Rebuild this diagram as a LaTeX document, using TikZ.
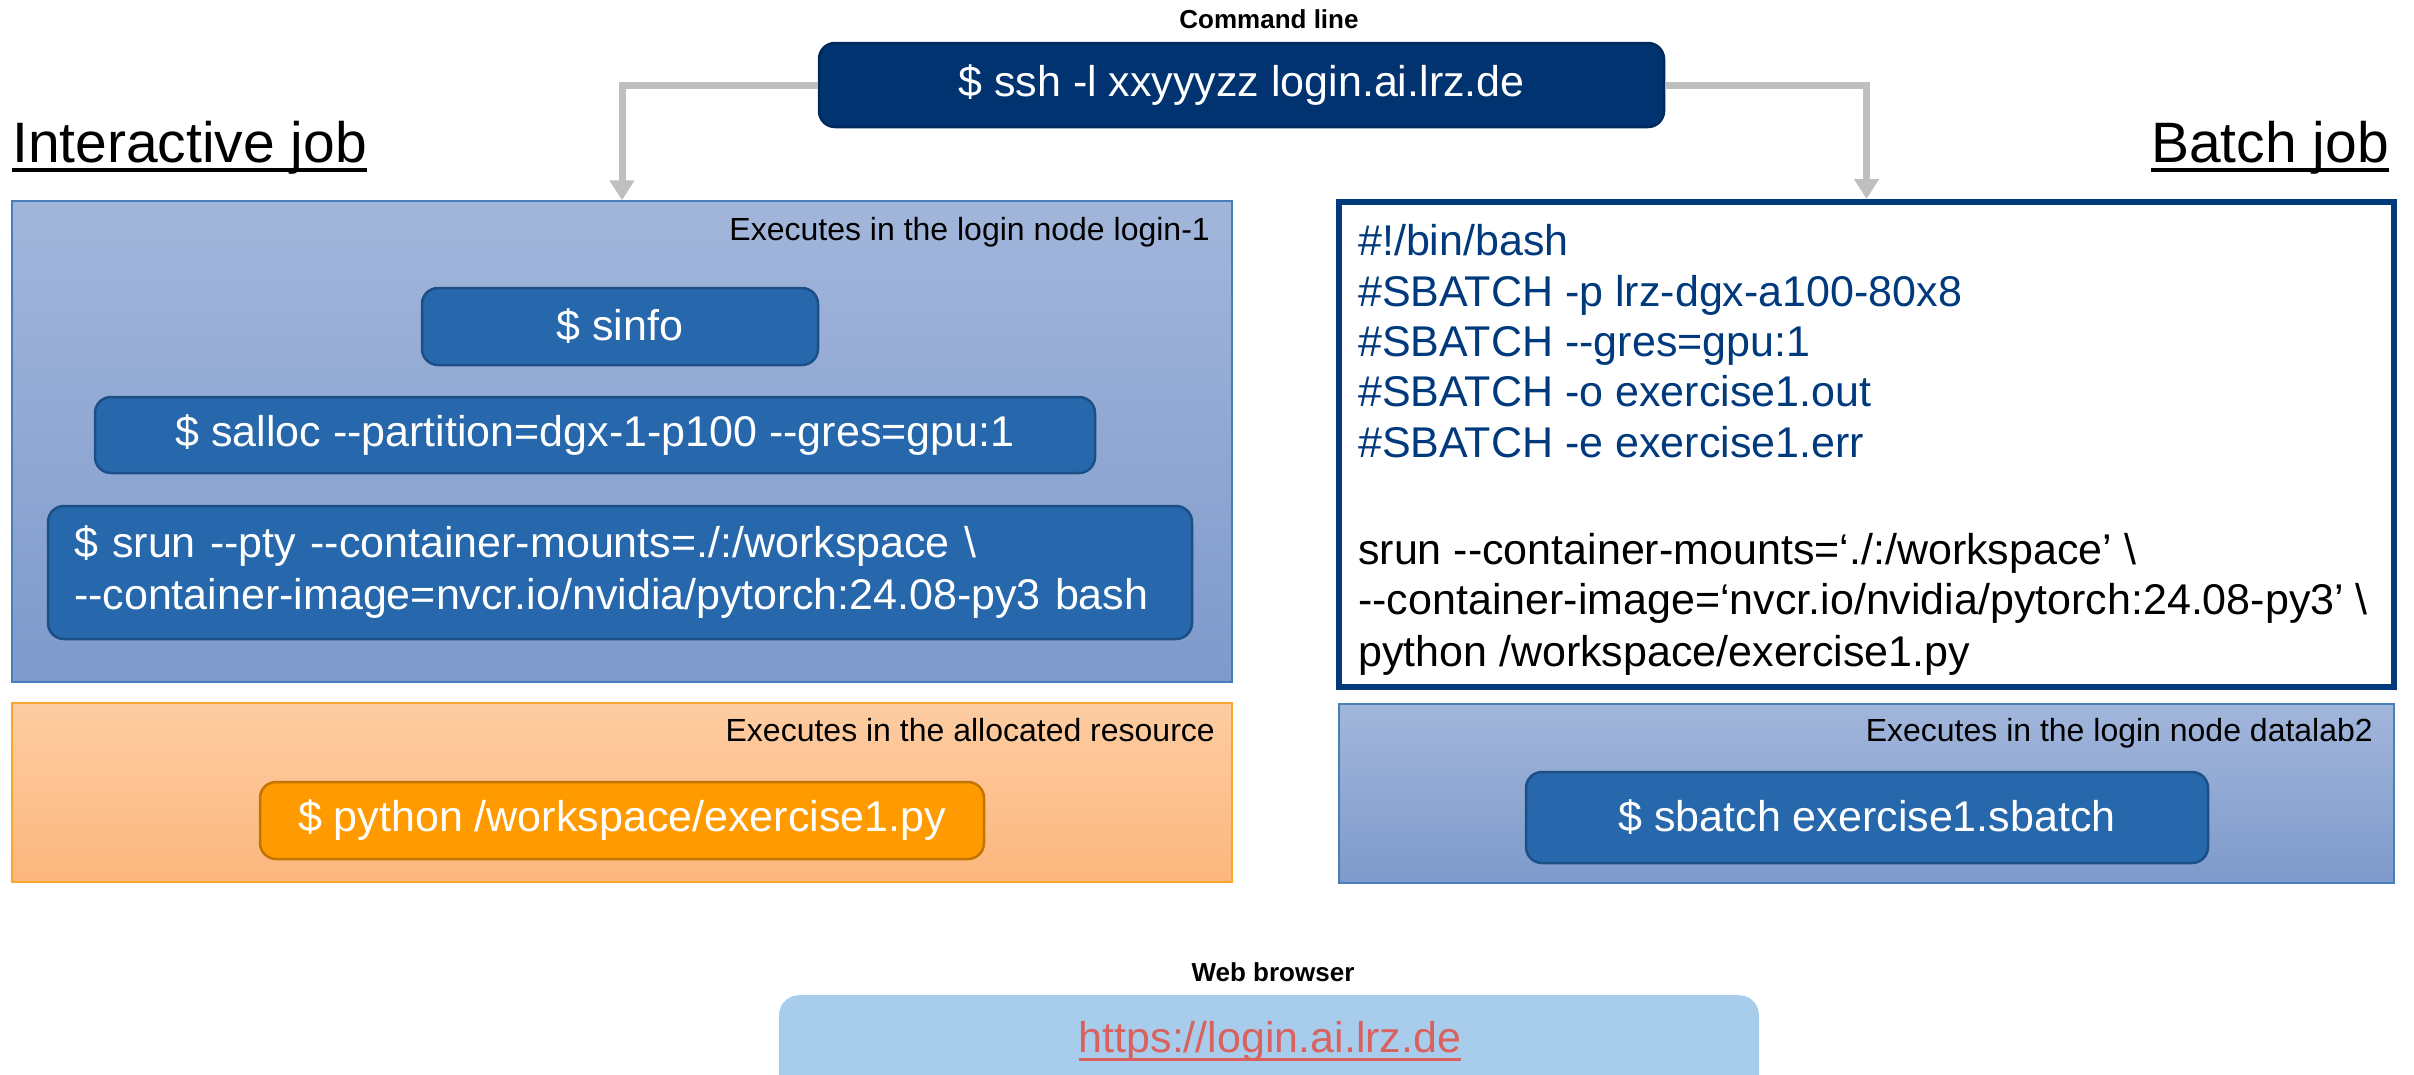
\documentclass[tikz,border=0pt]{standalone}
\usepackage{fontspec}
\setmainfont{Liberation Sans}[Ligatures=TeXOff]
\usetikzlibrary{arrows.meta}
\definecolor{navy}{HTML}{00336F}
\definecolor{navyborder}{HTML}{002A5C}
\definecolor{cmdblue}{HTML}{2767AB}
\definecolor{cmdborder}{HTML}{1D4F87}
\definecolor{sectop}{HTML}{A2B6DB}
\definecolor{secbot}{HTML}{7E9ACB}
\definecolor{secborder}{HTML}{4A7EBB}
\definecolor{orgtop}{HTML}{FDCCA2}
\definecolor{orgbot}{HTML}{FCB77D}
\definecolor{orgborder}{HTML}{FBA630}
\definecolor{pyfill}{HTML}{FF9A00}
\definecolor{pyborder}{HTML}{C27500}
\definecolor{batchnavy}{HTML}{003A7D}
\definecolor{arrowgray}{HTML}{BFBFBF}
\definecolor{webfill}{HTML}{A8CDEC}
\definecolor{urlred}{HTML}{D9625E}
\begin{document}
\begin{tikzpicture}[x=1pt,y=-1pt,
  cmdbox/.style={draw=cmdborder, line width=2.5pt, fill=cmdblue, rounded corners=16pt,
    text=white, font=\fontsize{43}{52}\selectfont, inner sep=0pt},
  pybox/.style={cmdbox, draw=pyborder, fill=pyfill},
  bluesec/.style={draw=secborder, line width=1.5pt, top color=sectop, bottom color=secbot, inner sep=0pt},
  orangesec/.style={draw=orgborder, line width=1.5pt, top color=orgtop, bottom color=orgbot, inner sep=0pt},
  seclabel/.style={font=\fontsize{32}{38}\selectfont, text=black, inner sep=0pt, anchor=east},
  heading/.style={font=\fontsize{57}{68}\selectfont, inner sep=0pt},
  smallbold/.style={font=\bfseries\fontsize{26}{31}\selectfont, inner sep=0pt},
  batchline/.style={font=\fontsize{43}{50}\selectfont, inner sep=0pt, anchor=base west},
  conn/.style={draw=arrowgray, line width=7pt, -{Triangle[width=24pt,length=20pt]}}
]
\useasboundingbox (0,0) rectangle (2414,1074);

% command line
\node[smallbold] (cmdlbl) at (1269,19) {Command line};
\node[draw=navyborder, line width=2.5pt, fill=navy, rounded corners=16pt, text=white,
      font=\fontsize{43}{52}\selectfont, inner sep=0pt,
      minimum width=845pt, minimum height=84pt] (ssh) at (1241.5,85) {\$ ssh -l xxyyyzz login.ai.lrz.de};

% headings
\node[heading, anchor=base west] (ijob) at (12,162) {Interactive job};
\draw[line width=4pt] ([yshift=-8pt]ijob.base west) -- ([yshift=-8pt]ijob.base east);
\node[heading, anchor=base east] (bjob) at (2389,162) {Batch job};
\draw[line width=4pt] ([yshift=-8pt]bjob.base west) -- ([yshift=-8pt]bjob.base east);

% interactive section
\node[bluesec, minimum width=1220pt, minimum height=481pt] (lbox) at (622,441.5) {};
\node[seclabel] (lboxlbl) at (1210,232) {Executes in the login node login-1};
\node[cmdbox, minimum width=396pt, minimum height=77pt] (sinfo) at (620,326.5) {\$ sinfo};
\node[cmdbox, minimum width=1000pt, minimum height=76pt] (salloc) at (595,435) {\$ salloc --partition=dgx-1-p100 --gres=gpu:1};
\node[cmdbox, minimum width=1144pt, minimum height=133pt, text width=1092pt, align=left] (srun) at (620,572.5)
  {\$ srun --pty --container-mounts=./:/workspace \textbackslash\\--container-image=nvcr.io/nvidia/pytorch:24.08-py3 bash};

% allocated resource section
\node[orangesec, minimum width=1220pt, minimum height=179pt] (obox) at (622,792.5) {};
\node[seclabel] (oboxlbl) at (1215,730) {Executes in the allocated resource};
\node[pybox, minimum width=724pt, minimum height=77pt] (python) at (622,820.5) {\$ python /workspace/exercise1.py};

% batch script
\node[draw=batchnavy, line width=6pt, fill=white, inner sep=0pt,
      minimum width=1055pt, minimum height=485pt] (batch) at (1866.5,444.5) {};
\node[batchline, text=batchnavy] (bl1) at (1358,255) {\#!/bin/bash};
\node[batchline, text=batchnavy] (bl2) at (1358,306) {\#SBATCH -p lrz-dgx-a100-80x8};
\node[batchline, text=batchnavy] (bl3) at (1358,356) {\#SBATCH --gres=gpu:1};
\node[batchline, text=batchnavy] (bl4) at (1358,406) {\#SBATCH -o exercise1.out};
\node[batchline, text=batchnavy] (bl5) at (1358,457) {\#SBATCH -e exercise1.err};
\node[batchline, text=black] (bl6) at (1358,564) {srun --container-mounts=‘./:/workspace’ \textbackslash};
\node[batchline, text=black] (bl7) at (1358,614) {--container-image=‘nvcr.io/nvidia/pytorch:24.08-py3’ \textbackslash};
\node[batchline, text=black] (bl8) at (1358,666) {python /workspace/exercise1.py};

% batch submission section
\node[bluesec, minimum width=1055pt, minimum height=179pt] (bbox) at (1866.5,793.5) {};
\node[seclabel] (bboxlbl) at (2373,733) {Executes in the login node datalab2};
\node[cmdbox, minimum width=682pt, minimum height=91pt] (sbatch) at (1867,817.5) {\$ sbatch exercise1.sbatch};

% connectors
\draw[conn] (ssh.west) -| (lbox.north);
\draw[conn] (ssh.east) -| (batch.north);

% web browser
\node[smallbold] (weblbl) at (1273,972) {Web browser};
\begin{scope}
\clip (0,0) rectangle (2414,1074);
\node[fill=webfill, rounded corners=20pt, inner sep=0pt, minimum width=980pt, minimum height=160pt, anchor=north] (web) at (1269,995) {};
\end{scope}
\node[font=\fontsize{43}{52}\selectfont, text=urlred, inner sep=0pt, anchor=base] (url) at (1270,1052) {https://login.ai.lrz.de};
\draw[urlred, line width=3pt] ([yshift=-7pt]url.base west) -- ([yshift=-7pt]url.base east);
\end{tikzpicture}
\end{document}
